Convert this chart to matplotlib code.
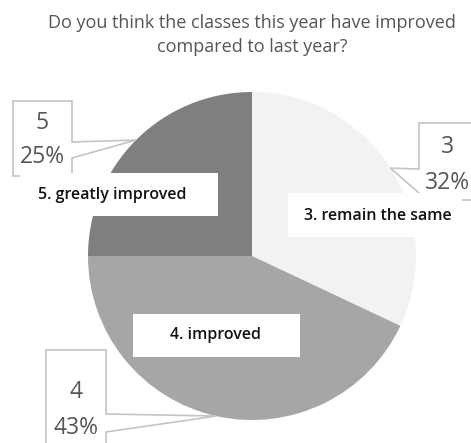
import numpy as np
import matplotlib
matplotlib.use("Agg")
import matplotlib.pyplot as plt
from matplotlib.patches import Polygon, Rectangle

plt.rcParams['font.family'] = ['Open Sans', 'DejaVu Sans']

# data
codes = ["3", "4", "5"]
names = ["3. remain the same", "4. improved", "5. greatly improved"]
shares = [32, 43, 25]
colors = ["#f2f2f2", "#a6a6a6", "#7f7f7f"]

W, H = 471, 443
fig = plt.figure(figsize=(W/100, H/100), dpi=100)
ax = fig.add_axes([0, 0, 1, 1])

cx, cy, R = 252, H - 256, 164
wedges, _ = ax.pie(shares, colors=colors, startangle=90, counterclock=False,
                   center=(cx, cy), radius=R, wedgeprops=dict(linewidth=0))
ax.set_xlim(0, W)
ax.set_ylim(0, H)
ax.set_aspect('auto')
ax.axis('off')

def P(x, y):
    # pixel coords (top-left origin) -> data
    return (x, H - y)

def tip(w):
    a = np.deg2rad((w.theta1 + w.theta2) / 2)
    return (cx + R*np.cos(a), cy + R*np.sin(a))

edge = "#c4c4c4"
txtc = "#555555"

# callout boxes: box (left, top, right, bottom), pointer y range, side, text x / y1 / y2
callouts = {
    "3": dict(box=(419, 123, 490, 200), py=(169, 193), side="left", txt=(447, 147, 183)),
    "4": dict(box=(46, 350, 106, 470), py=(414, 432), side="right", txt=(76, 392, 428)),
    "5": dict(box=(13, 101, 72, 176), py=(142, 158), side="right", txt=(42, 123, 157)),
}

for code, share, w in zip(codes, shares, wedges):
    c = callouts[code]
    x0, y0, x1, y1 = c["box"]
    p1, p2 = c["py"]
    t = tip(w)
    if c["side"] == "right":
        pts = [P(x0, y0), P(x1, y0), P(x1, p1), t, P(x1, p2), P(x1, y1), P(x0, y1)]
    else:
        pts = [P(x0, y0), P(x1, y0), P(x1, y1), P(x0, y1), P(x0, p2), t, P(x0, p1)]
    ax.add_patch(Polygon(pts, closed=True, facecolor="white", edgecolor=edge,
                         linewidth=1.2, zorder=3))
    tx, ty1, ty2 = c["txt"]
    ax.text(*P(tx, ty1), code, ha="center", va="center", fontsize=16.5, color=txtc, zorder=4)
    ax.text(*P(tx, ty2), f"{share}%", ha="center", va="center", fontsize=16.5, color=txtc, zorder=4)

# category label boxes: (left, top, right, bottom), text centre
labelbox = {
    "3. remain the same": ((288, 193, 462, 237), (378, 216)),
    "4. improved": ((133, 314, 300, 357), (216, 335)),
    "5. greatly improved": ((20, 173, 218, 216), (112, 195)),
}
for name in names:
    (x0, y0, x1, y1), (tx, ty) = labelbox[name]
    ax.add_patch(Rectangle(P(x0, y1), x1 - x0, y1 - y0, facecolor="white",
                           edgecolor="none", zorder=5))
    ax.text(*P(tx, ty), name, ha="center", va="center",
            fontsize=11.5, color="#111111", fontweight="semibold", zorder=6)

fig.text(252/W, 1 - 23/H, "Do you think the classes this year have improved",
         ha="center", va="center", fontsize=13, color=txtc)
fig.text(252/W, 1 - 47/H, "compared to last year?",
         ha="center", va="center", fontsize=13, color=txtc)

fig.savefig("out.png", dpi=100)
